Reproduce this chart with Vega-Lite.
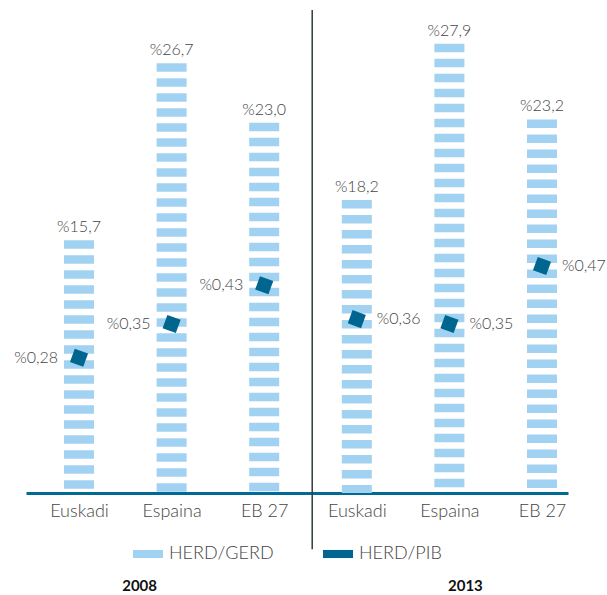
{
  "$schema": "https://vega.github.io/schema/vega-lite/v6.json",
  "width": 542,
  "height": 483,
  "autosize": {"type": "none"},
  "padding": {"left": 26, "top": 10, "right": 39, "bottom": 102},
  "background": "white",
  "config": {
    "view": {"stroke": null},
    "font": "Lato",
    "text": {"font": "Lato", "fontWeight": 300, "fontSize": 16, "color": "#444444"}
  },
  "datasets": {
    "d": [
      {"cat": "Euskadi 2008", "year": "2008", "gerd": 15.7, "pib": 0.28},
      {"cat": "Espaina 2008", "year": "2008", "gerd": 26.7, "pib": 0.35},
      {"cat": "EB 27 2008", "year": "2008", "gerd": 23.0, "pib": 0.43},
      {"cat": "Euskadi 2013", "year": "2013", "gerd": 18.2, "pib": 0.36},
      {"cat": "Espaina 2013", "year": "2013", "gerd": 27.9, "pib": 0.35},
      {"cat": "EB 27 2013", "year": "2013", "gerd": 23.2, "pib": 0.47}
    ]
  },
  "data": {"name": "d"},
  "resolve": {"scale": {"y": "independent"}},
  "encoding": {
    "x": {
      "field": "cat",
      "type": "nominal",
      "scale": {
        "type": "point",
        "domain": ["Euskadi 2008", "Espaina 2008", "EB 27 2008", "Euskadi 2013", "Espaina 2013", "EB 27 2013"],
        "padding": 0.4266,
        "align": 0.671
      },
      "axis": {
        "title": null,
        "ticks": false,
        "labelAngle": 0,
        "domainColor": "#006a94",
        "domainWidth": 3,
        "labelExpr": "substring(datum.label, 0, length(datum.label) - 5)",
        "labelFont": "Lato",
        "labelFontWeight": 300,
        "labelFontSize": 18,
        "labelColor": "#444444",
        "labelPadding": 9,
        "grid": false
      }
    }
  },
  "layer": [
    {
      "data": {"values": [{}]},
      "mark": {"type": "rule", "color": "#333b42", "strokeWidth": 1.5, "xOffset": 48},
      "encoding": {
        "x": {"datum": "EB 27 2008"},
        "y": {"datum": 30, "type": "quantitative", "scale": {"domain": [0, 30]}, "axis": null},
        "y2": {"datum": -3.5}
      }
    },
    {
      "mark": {"type": "rule", "strokeWidth": 30, "strokeDash": [8.5, 6.5], "strokeCap": "butt"},
      "encoding": {
        "y": {"field": "gerd", "type": "quantitative", "scale": {"domain": [0, 30]}, "axis": null},
        "y2": {"datum": 0},
        "color": {
          "datum": "HERD/GERD",
          "scale": {"domain": ["HERD/GERD", "HERD/PIB"], "range": ["#a2d2f1", "#00668f"]},
          "legend": {
            "title": null,
            "orient": "none",
            "direction": "horizontal",
            "legendX": 107,
            "legendY": 529,
            "padding": 0,
            "symbolType": "M-1,-0.27H1V0.27H-1Z",
            "symbolSize": 900,
            "symbolStrokeWidth": 0,
            "labelFont": "Lato",
            "labelFontWeight": 300,
            "labelFontSize": 18,
            "labelColor": "#444444",
            "labelOffset": 6,
            "columnPadding": 49,
            "encode": {
              "symbols": {
                "update": {
                  "fill": {"scale": "color", "field": "value"},
                  "stroke": {"value": "transparent"},
                  "strokeWidth": {"value": 0},
                  "opacity": {"value": 1}
                }
              }
            }
          }
        }
      }
    },
    {
      "transform": [{"calculate": "'%' + replace(format(datum.gerd, '.1f'), '.', ',')", "as": "lbl"}],
      "mark": {"type": "text", "baseline": "alphabetic", "dy": -8, "fontSize": 16},
      "encoding": {
        "y": {"field": "gerd", "type": "quantitative", "scale": {"domain": [0, 30]}, "axis": null},
        "text": {"field": "lbl"}
      }
    },
    {
      "mark": {"type": "point", "shape": "square", "filled": true, "size": 200, "angle": 20, "opacity": 1},
      "encoding": {
        "y": {"field": "pib", "type": "quantitative", "scale": {"domain": [0, 1]}, "axis": null},
        "color": {"datum": "HERD/PIB"}
      }
    },
    {
      "transform": [
        {"filter": "datum.year == '2008'"},
        {"calculate": "'%' + replace(format(datum.pib, '.2f'), '.', ',')", "as": "lbl"}
      ],
      "mark": {"type": "text", "align": "right", "baseline": "middle", "dx": -21},
      "encoding": {
        "y": {"field": "pib", "type": "quantitative", "scale": {"domain": [0, 1]}, "axis": null},
        "text": {"field": "lbl"}
      }
    },
    {
      "transform": [
        {"filter": "datum.year == '2013'"},
        {"calculate": "'%' + replace(format(datum.pib, '.2f'), '.', ',')", "as": "lbl"}
      ],
      "mark": {"type": "text", "align": "left", "baseline": "middle", "dx": 20},
      "encoding": {
        "y": {"field": "pib", "type": "quantitative", "scale": {"domain": [0, 1]}, "axis": null},
        "text": {"field": "lbl"}
      }
    },
    {
      "data": {"values": [{"yr": "2008"}]},
      "mark": {"type": "text", "fontWeight": "bold", "fontSize": 15, "color": "#111111", "baseline": "middle", "dx": -32},
      "encoding": {
        "x": {"datum": "Espaina 2008"},
        "y": {"datum": -5.8, "type": "quantitative", "scale": {"domain": [0, 30]}, "axis": null},
        "text": {"field": "yr"}
      }
    },
    {
      "data": {"values": [{"yr": "2013"}]},
      "mark": {"type": "text", "fontWeight": "bold", "fontSize": 15, "color": "#111111", "baseline": "middle", "dx": 16},
      "encoding": {
        "x": {"datum": "Espaina 2013"},
        "y": {"datum": -5.8, "type": "quantitative", "scale": {"domain": [0, 30]}, "axis": null},
        "text": {"field": "yr"}
      }
    }
  ]
}
